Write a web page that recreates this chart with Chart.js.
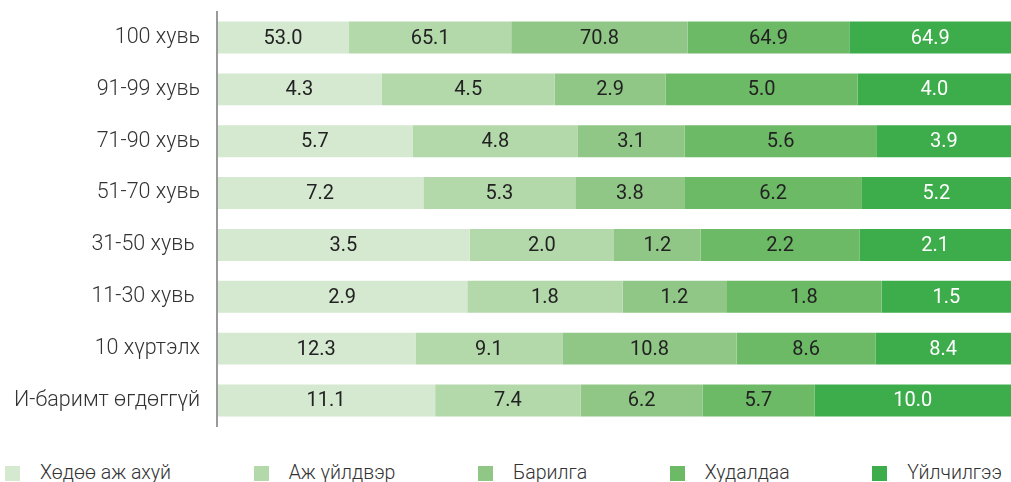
<!DOCTYPE html>
<html>
<head>
<meta charset="utf-8">
<script src="https://cdn.jsdelivr.net/npm/chart.js@4/dist/chart.umd.min.js"></script>
<style>
  html, body { margin: 0; padding: 0; background: #fff; }
  #wrap { position: relative; width: 1011px; height: 482px; overflow: hidden; }
  #box { position: absolute; left: 0; top: 0; width: 1011px; height: 440px; }
  #legend { position: absolute; left: 5px; right: 9px; top: 463px; display: flex; justify-content: space-between;
    font: 300 19.5px Roboto, sans-serif; color: #333; line-height: 20px; }
  #legend .item { display: flex; align-items: center; white-space: nowrap; }
  #legend .sw { width: 15px; height: 15px; margin-right: 20px; }
</style>
</head>
<body>
<div id="wrap">
  <div id="box"><canvas id="myChart"></canvas></div>
  <div id="legend"></div>
</div>
<script>
var categories = ["100 хувь", "91-99 хувь", "71-90 хувь", "51-70 хувь", "31-50 хувь ", "11-30 хувь ", "10 хүртэлх", "И-баримт өгдөггүй"];
var seriesNames = ["Хөдөө аж ахуй", "Аж үйлдвэр", "Барилга", "Худалдаа", "Үйлчилгээ"];
var seriesColors = ["#d5e8d0", "#b3d8aa", "#90c786", "#6cb966", "#3dac4a"];
var labelColors = ["#222", "#222", "#222", "#222", "#fff"];

// raw values shown in the labels
var agriculture = [53.0, 4.3, 5.7, 7.2, 3.5, 2.9, 12.3, 11.1];
var industry    = [65.1, 4.5, 4.8, 5.3, 2.0, 1.8, 9.1, 7.4];
var construction= [70.8, 2.9, 3.1, 3.8, 1.2, 1.2, 10.8, 6.2];
var trade       = [64.9, 5.0, 5.6, 6.2, 2.2, 1.8, 8.6, 5.7];
var services    = [64.9, 4.0, 3.9, 5.2, 2.1, 1.5, 8.4, 10.0];

var rawSeries = [agriculture, industry, construction, trade, services];

// each row is stretched to 100%
var rowTotals = categories.map(function (c, i) {
    var s = 0;
    for (var k = 0; k < rawSeries.length; k++) s += rawSeries[k][i];
    return s;
});

var datasets = rawSeries.map(function (vals, k) {
    return {
        label: seriesNames[k],
        data: vals.map(function (v, i) { return v / rowTotals[i] * 100; }),
        raw: vals,
        backgroundColor: seriesColors[k],
        borderWidth: 0,
        barPercentage: 0.617,
        categoryPercentage: 1
    };
});

var valueLabels = {
    id: "valueLabels",
    afterDatasetsDraw: function (chart) {
        var ctx = chart.ctx;
        ctx.save();
        ctx.font = "400 20px Roboto, sans-serif";
        ctx.textAlign = "center";
        ctx.textBaseline = "middle";
        chart.data.datasets.forEach(function (ds, k) {
            var meta = chart.getDatasetMeta(k);
            meta.data.forEach(function (bar, i) {
                ctx.fillStyle = labelColors[k];
                ctx.fillText(ds.raw[i].toFixed(1), (bar.x + bar.base) / 2, bar.y + 1);
            });
        });
        ctx.restore();
    }
};

new Chart("myChart", {
    type: "bar",
    data: { labels: categories, datasets: datasets },
    options: {
        indexAxis: "y",
        responsive: true,
        maintainAspectRatio: false,
        animation: false,
        layout: { padding: { top: 11.6, bottom: 13.6, left: 0, right: 0 } },
        plugins: {
            legend: { display: false },
            tooltip: { enabled: false }
        },
        scales: {
            x: { stacked: true, min: 0, max: 100, display: false },
            y: {
                stacked: true,
                grid: { display: false, drawTicks: false },
                border: { display: true, color: "#9a9a9a", width: 2, z: 1 },
                ticks: { color: "#333", padding: 17, font: { family: "Roboto", size: 21.5, weight: 300 } },
                afterFit: function (scale) {
                    scale.width = 217;
                    scale.paddingTop = 0;
                    scale.paddingBottom = 0;
                }
            }
        }
    },
    plugins: [valueLabels]
});

var legendEl = document.getElementById("legend");
seriesNames.forEach(function (name, k) {
    var item = document.createElement("div");
    item.className = "item";
    var sw = document.createElement("span");
    sw.className = "sw";
    sw.style.background = seriesColors[k];
    item.appendChild(sw);
    item.appendChild(document.createTextNode(name));
    legendEl.appendChild(item);
});
</script>
</body>
</html>
